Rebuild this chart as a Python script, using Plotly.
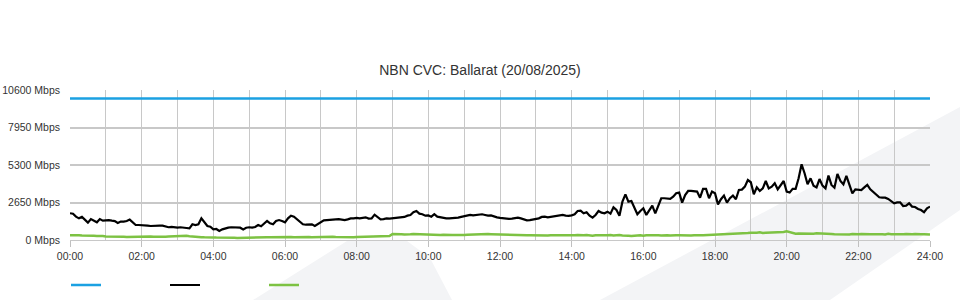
import plotly.graph_objects as go

# ---- data (5-minute samples, hours 0..24) ----
step_minutes = 5
hours = [m / 60 for m in range(0, 24 * 60 + 1, step_minutes)]

capacity_hours = [0, 24]
capacity_mbps = [10000, 10000]

download_mbps = [
    1890, 1860, 1650, 1530, 1630, 1410, 1230, 1480, 1390, 1250, 1480, 1370,
    1390, 1410, 1370, 1340, 1200, 1300, 1300, 1340, 1440, 1250, 1060, 1060,
    1060, 1010, 1010, 990, 1010, 1040, 1010, 1010, 970, 900, 920, 870,
    870, 900, 900, 850, 820, 1110, 1060, 1110, 1530, 1250, 990, 940,
    750, 780, 640, 750, 820, 870, 900, 900, 900, 870, 750, 870,
    900, 870, 920, 1060, 970, 1180, 1340, 1180, 1110, 1340, 1410, 1340,
    1250, 1530, 1720, 1650, 1460, 1250, 1110, 1080, 1110, 1110, 990, 1130,
    1250, 1390, 1410, 1410, 1410, 1460, 1480, 1440, 1410, 1460, 1530, 1530,
    1560, 1530, 1580, 1600, 1510, 1530, 1790, 1630, 1460, 1480, 1530, 1510,
    1530, 1560, 1600, 1580, 1630, 1720, 1770, 1960, 2050, 1860, 1820, 1720,
    1740, 1650, 1820, 1650, 1600, 1560, 1530, 1530, 1530, 1530, 1580, 1630,
    1670, 1740, 1770, 1740, 1770, 1790, 1820, 1770, 1720, 1740, 1650, 1600,
    1560, 1530, 1490, 1490, 1510, 1530, 1580, 1530, 1440, 1390, 1410, 1440,
    1490, 1530, 1630, 1650, 1600, 1630, 1670, 1700, 1720, 1770, 1720, 1700,
    1740, 1815, 2050, 2070, 1885, 1956, 1720, 1580, 1770, 2050, 1930, 1885,
    2000, 1860, 2310, 2120, 1720, 2710, 3230, 2710, 2760, 2290, 1815, 2050,
    2240, 1770, 2120, 2430, 1885, 2360, 2950, 2950, 2950, 2900, 3060, 3300,
    3350, 2640, 3180, 3465, 3465, 3465, 3420, 2990, 3610, 3610, 2950, 3420,
    3300, 2520, 2880, 3135, 2640, 2950, 3135, 2880, 3535, 3560, 3770, 4240,
    4080, 3230, 3720, 3465, 3650, 4170, 3650, 3770, 4010, 3580, 3890, 4170,
    3420, 3350, 3610, 3610, 4360, 5350, 4720, 3935, 4360, 3840, 3720, 4310,
    3840, 3650, 4550, 3890, 3700, 4670, 4170, 3935, 4525, 3890, 3300, 3580,
    3535, 3535, 3720, 3890, 3580, 3370, 3180, 3020, 2990, 2990, 2900, 2710,
    2590, 2660, 2660, 2400, 2430, 2590, 2360, 2330, 2190, 2120, 1960, 2240,
    2360,
]

upload_mbps = [
    330, 340, 320, 330, 310, 320, 300, 310, 300, 290, 300, 280,
    240, 230, 240, 220, 230, 220, 230, 220, 230, 220, 220, 230,
    220, 230, 240, 250, 230, 220, 230, 220, 230, 240, 250, 270,
    300, 290, 280, 300, 270, 240, 230, 210, 200, 190, 200, 190,
    180, 170, 160, 170, 150, 160, 150, 160, 150, 160, 170, 160,
    180, 190, 200, 190, 200, 210, 200, 190, 200, 210, 200, 210,
    210, 220, 210, 200, 210, 200, 210, 220, 210, 200, 210, 220,
    220, 230, 240, 250, 230, 220, 210, 220, 210, 220, 210, 200,
    210, 220, 230, 220, 230, 240, 250, 240, 250, 260, 270, 280,
    430, 440, 420, 410, 390, 380, 400, 420, 410, 400, 380, 370,
    360, 380, 370, 350, 360, 370, 350, 340, 360, 350, 340, 350,
    360, 370, 380, 400, 420, 430, 440, 430, 420, 410, 400, 390,
    380, 370, 360, 350, 340, 350, 330, 340, 320, 330, 340, 330,
    320, 330, 340, 320, 310, 330, 320, 340, 330, 320, 330, 340,
    320, 330, 350, 320, 340, 360, 330, 300, 330, 350, 320, 340,
    330, 360, 320, 340, 350, 320, 330, 300, 280, 320, 310, 330,
    300, 330, 340, 320, 350, 330, 320, 340, 330, 310, 340, 330,
    340, 320, 350, 330, 310, 340, 360, 330, 340, 350, 360, 330,
    360, 380, 370, 400, 380, 410, 420, 460, 450, 480, 470, 500,
    520, 490, 510, 540, 500, 520, 530, 510, 550, 520, 540, 560,
    610, 560, 460, 440, 460, 450, 430, 460, 440, 450, 470, 450,
    430, 460, 440, 420, 410, 400, 420, 400, 410, 390, 420, 400,
    410, 420, 400, 430, 410, 400, 420, 400, 410, 390, 440, 410,
    400, 420, 430, 410, 420, 400, 410, 420, 390, 410, 400, 380,
    380,
]

x_tick_vals = [0, 2, 4, 6, 8, 10, 12, 14, 16, 18, 20, 22, 24]
x_tick_text = ["00:00", "02:00", "04:00", "06:00", "08:00", "10:00", "12:00",
               "14:00", "16:00", "18:00", "20:00", "22:00", "24:00"]
y_tick_vals = [0, 2650, 5300, 7950, 10600]
y_tick_text = ["0 Mbps", "2650 Mbps", "5300 Mbps", "7950 Mbps", "10600 Mbps"]

title_text = "NBN CVC: Ballarat (20/08/2025)"

# ---- figure ----
L, R, T, B = 70, 30, 90, 60
W, H = 960, 300
PW, PH = W - L - R, H - T - B


def px(xp):
    return (xp - L) / PW


def py(yp):
    return (H - B - yp) / PH


fig = go.Figure()
fig.add_trace(go.Scatter(x=capacity_hours, y=capacity_mbps, mode="lines", name="",
                         line=dict(color="#1ba1e2", width=2.5), showlegend=True))
fig.add_trace(go.Scatter(x=hours, y=download_mbps, mode="lines", name="",
                         line=dict(color="#000000", width=2.2), showlegend=True))
fig.add_trace(go.Scatter(x=hours, y=upload_mbps, mode="lines", name="",
                         line=dict(color="#7dc243", width=2.5), showlegend=True))

# decorative background swoosh
band = [(600, 300), (960, 107), (960, 210), (830, 300)]
blob = [(253, 300), (347, 241), (407, 241), (430, 258), (452, 300)]
for poly in (band, blob):
    path = "M " + " L ".join(f"{px(a):.4f},{py(b):.4f}" for a, b in poly) + " Z"
    fig.add_shape(type="path", path=path, xref="paper", yref="paper",
                  fillcolor="#f3f4f6", line=dict(width=0), layer="below")

fig.update_layout(
    width=W, height=H,
    margin=dict(l=L, r=R, t=T, b=B, autoexpand=False),
    paper_bgcolor="white",
    plot_bgcolor="rgba(0,0,0,0)",
    font=dict(family="Liberation Sans, Arial, sans-serif", size=10.5, color="#333333"),
    title=dict(text=title_text, x=0.5, xref="container", xanchor="center",
               y=1 - 70 / H, yref="container", yanchor="middle",
               font=dict(size=14, color="#333333")),
    showlegend=True,
    legend=dict(orientation="h", x=px(66), xanchor="left", y=py(285), yanchor="middle",
                entrywidth=54, entrywidthmode="pixels", bgcolor="rgba(0,0,0,0)",
                font=dict(size=11), itemwidth=30),
)
fig.update_xaxes(range=[0, 24], tickvals=x_tick_vals, ticktext=x_tick_text,
                 tickfont=dict(size=10.5),
                 showgrid=True, gridcolor="#c8c8c8", gridwidth=1,
                 minor=dict(dtick=1, tick0=0, showgrid=True, gridcolor="#c8c8c8", gridwidth=1),
                 ticks="outside", ticklen=6, tickcolor="#c0c0c0",
                 showline=True, linecolor="#c8c8c8", linewidth=1,
                 zeroline=False, mirror=False, fixedrange=True, automargin=False)
fig.update_yaxes(range=[0, 10600], tickvals=y_tick_vals, ticktext=y_tick_text,
                 tickfont=dict(size=10.5),
                 showgrid=True, gridcolor="#c8c8c8", gridwidth=2,
                 ticks="", ticklabelstandoff=9, zeroline=False, fixedrange=True,
                 automargin=False)

fig.write_html("out.html")
